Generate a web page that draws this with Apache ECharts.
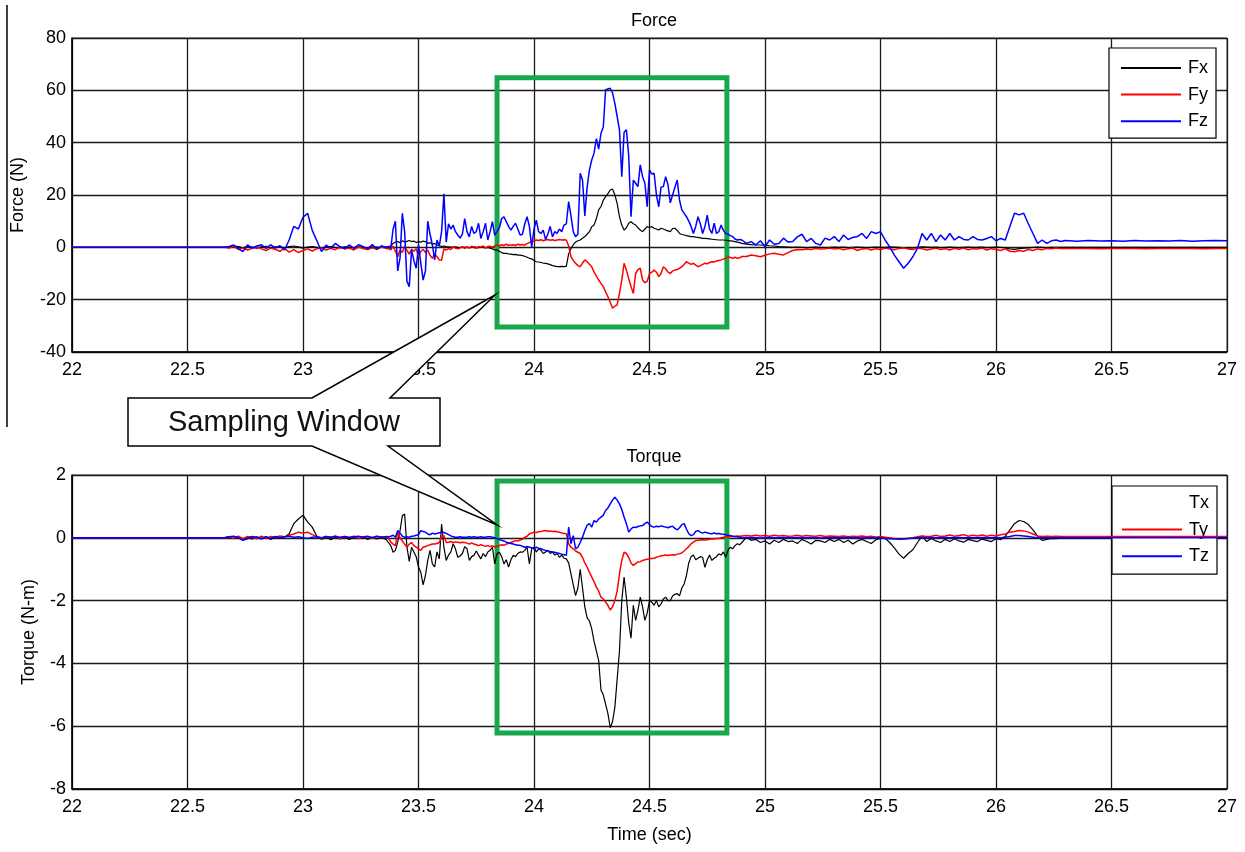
<!DOCTYPE html>
<html>
<head>
<meta charset="utf-8">
<script src="https://cdn.jsdelivr.net/npm/echarts/dist/echarts.min.js"></script>
<style>html,body{margin:0;padding:0;background:#fff}#c{width:1245px;height:852px}</style>
</head>
<body>
<div id="c"></div>
<script>
// ---- time samples (s) shared by all six channels ----
const time = [
 22.00, 22.66,
 22.68, 22.70, 22.72, 22.74, 22.76, 22.78, 22.80, 22.82, 22.84, 22.86,
 22.88, 22.90, 22.92, 22.94, 22.96, 22.98, 23.00, 23.02, 23.04, 23.06,
 23.08, 23.10, 23.12, 23.14, 23.16, 23.18, 23.20, 23.22, 23.24, 23.26,
 23.28, 23.30, 23.32, 23.34, 23.36,
 23.37, 23.38, 23.39, 23.40,
 23.41, 23.42, 23.43, 23.44, 23.45, 23.46, 23.47, 23.48, 23.49, 23.50,
 23.51, 23.52, 23.53, 23.54, 23.55, 23.56, 23.57, 23.58, 23.59, 23.60,
 23.61, 23.62, 23.63, 23.64, 23.65, 23.66, 23.67, 23.68, 23.69, 23.70,
 23.71, 23.72, 23.73, 23.74, 23.75, 23.76, 23.77, 23.78, 23.79, 23.80,
 23.81, 23.82, 23.83, 23.84, 23.85, 23.86, 23.87, 23.88, 23.89, 23.90,
 23.91, 23.92, 23.93, 23.94, 23.95, 23.96, 23.97, 23.98, 23.99, 24.00,
 24.01, 24.02, 24.03, 24.04, 24.05, 24.06, 24.07, 24.08, 24.09, 24.10,
 24.11, 24.12, 24.13, 24.14, 24.15, 24.16, 24.17, 24.18, 24.19, 24.20,
 24.21, 24.22, 24.23, 24.24, 24.25, 24.26, 24.27, 24.28, 24.29, 24.30,
 24.31, 24.32, 24.33, 24.34, 24.35, 24.36, 24.37, 24.38, 24.39, 24.40,
 24.41, 24.42, 24.43, 24.44, 24.45, 24.46, 24.47, 24.48, 24.49, 24.50,
 24.51, 24.52, 24.53, 24.54, 24.55, 24.56, 24.57, 24.58, 24.59, 24.60,
 24.61, 24.62, 24.63, 24.64, 24.65, 24.66, 24.67, 24.68, 24.69, 24.70,
 24.71, 24.72, 24.73, 24.74, 24.75, 24.76, 24.77, 24.78, 24.79, 24.80,
 24.81, 24.82, 24.83, 24.84, 24.85, 24.86, 24.87, 24.88, 24.89, 24.90,
 24.92, 24.94, 24.96, 24.98, 25.00, 25.02, 25.04, 25.06, 25.08, 25.10,
 25.12, 25.14, 25.16, 25.18, 25.20, 25.22, 25.24, 25.26, 25.28, 25.30,
 25.32, 25.34, 25.36, 25.38, 25.40, 25.42, 25.44, 25.46, 25.48, 25.50,
 25.52, 25.54, 25.56, 25.58, 25.60, 25.62, 25.64, 25.66, 25.68, 25.70,
 25.72, 25.74, 25.76, 25.78, 25.80, 25.82, 25.84, 25.86, 25.88, 25.90,
 25.92, 25.94, 25.96, 25.98, 26.00, 26.02, 26.04, 26.06, 26.08, 26.10,
 26.12, 26.14, 26.16, 26.18, 26.20, 26.22, 26.24, 26.26, 26.28, 26.30,
 26.35, 26.40, 26.45, 26.50, 26.55, 26.60, 26.65, 26.70, 26.75, 26.80, 26.85, 26.90, 26.95, 27.00
];

// ---- Force (N) ----
const fx = [
 0, 0,
 0.0, 0.5, 0.3, -0.2, 0.4, 0.1, -0.3, 0.2, 0.4, -0.1,
 0.2, 0.3, -0.2, 0.3, 0.5, 0.2, -0.3, 0.1, 0.3, 0.0,
 -0.2, 0.2, 0.3, 0.0, -0.2, 0.2, 0.1, -0.1, 0.2, 0.0,
 -0.2, 0.2, 0.1, 0.0, 0.2,
 0.3, 0.5, 1.5, 2.0,
 2.2, 1.8, 2.5, 2.0, 2.3, 2.6, 2.2, 2.4, 1.8, 2.2,
 2.0, 2.4, 2.2, 1.5, 1.8, 1.2, 1.5, 0.9, 0.6, 0.3,
 0.5, 0.3, 0.2, 0.0, 0.1, 0.2, 0.0, -0.1, 0.1, 0.0,
 0.1, -0.1, 0.0, 0.2, 0.0, -0.1, 0.1, 0.0, -0.2, 0.0,
 -0.3, -0.6, -1.0, -1.0, -1.5, -2.0, -2.3, -2.3, -2.5, -2.6,
 -2.8, -2.7, -3.0, -3.0, -3.2, -3.4, -3.8, -4.2, -4.4, -5.0,
 -5.5, -5.6, -5.8, -6.0, -6.1, -6.3, -6.6, -7.0, -7.2, -7.4,
 -7.4, -7.3, -7.4, -7.2, -2.5, -0.5, 1.0, 2.0, 2.5, 2.8,
 3.5, 4.1, 5.0, 6.0, 7.9, 8.5, 11.0, 14.3, 15.6, 18.0,
 19.4, 20.5, 21.9, 22.3, 20.0, 16.8, 11.7, 8.5, 6.6, 7.5,
 9.2, 9.8, 9.0, 8.5, 7.5, 6.6, 6.0, 7.0, 7.9, 7.6,
 7.9, 7.3, 7.0, 6.6, 7.3, 7.0, 6.6, 6.3, 6.0, 7.2,
 7.3, 6.5, 5.3, 4.9, 4.7, 4.5, 4.3, 4.1, 4.1, 3.9,
 3.8, 3.6, 3.4, 3.4, 3.3, 3.2, 3.1, 3.0, 2.9, 2.8,
 2.8, 2.8, 2.7, 2.6, 2.5, 2.4, 2.2, 2.0, 1.8, 1.5,
 1.2, 1.0, 0.9, 0.9, 0.8, 0.6, 0.5, 0.3, 0.2, 0.1,
 0.0, 0.1, 0.0, -0.1, 0.0, 0.1, 0.0, -0.1, 0.0, 0.1,
 0.0, 0.1, -0.1, 0.0, 0.1, 0.0, -0.1, 0.0, 0.1, 0.0,
 0.0, 0.2, 0.1, 0.0, -0.2, -0.3, -0.2, 0.0, 0.2, 0.1,
 0.0, 0.1, -0.1, 0.0, 0.1, 0.0, -0.1, 0.0, 0.1, 0.0,
 0.0, 0.1, -0.1, 0.0, 0.1, 0.0, -0.2, -0.6, -0.8, -0.5,
 -0.3, -0.2, 0.0, 0.1, 0.0, -0.1, 0.0, 0.0, 0.0, 0.0,
 0, 0, 0, 0, 0, 0, 0, 0, 0, 0, 0, 0, 0, 0
];
const fy = [
 0, 0,
 -0.3, 0.4, -0.8, -0.2, -1.0, -0.4, 0.2, -0.6, -1.2, -0.3,
 -0.8, -1.5, -0.4, -1.8, -0.9, -2.0, -1.2, -0.6, -1.4, -0.5,
 -0.2, -1.0, -0.4, -0.9, 0.2, -0.6, -0.3, -1.0, 0.1, -0.5,
 -0.8, -0.2, -0.7, 0.1, -0.4,
 -0.5, -1.0, 0.5, -1.5,
 -3.6, -1.0, -2.0, 0.5, -1.2, -2.6, -0.8, -1.5, -0.5, -3.6,
 -1.5, -0.8, -2.0, -1.0, -3.0, -4.2, -2.5, -3.6, -4.8, -4.9,
 -0.6, -1.0, -0.5, -0.8, 0.2, -0.3, -0.6, -0.2, 0.3, -0.4,
 0.1, -0.3, 0.4, 0.0, -0.4, 0.3, 0.1, 0.5, -0.2, 0.3,
 0.4, 0.0, 0.6, 0.9, 0.5, 1.0, 0.7, 1.2, 0.8, 0.9,
 1.0, 0.7, 1.2, 0.9, 1.1, 0.8, 1.4, 1.8, 2.2, 2.4,
 2.8, 2.6, 2.9, 2.5, 2.8, 3.0, 2.7, 2.9, 2.6, 2.8,
 3.0, 2.8, 2.9, 2.8, 0.5, -3.6, -5.0, -6.1, -7.0, -7.4,
 -6.0, -4.8, -5.5, -6.5, -7.4, -9.5, -11.0, -12.5, -13.8, -15.0,
 -17.0, -18.9, -21.0, -23.3, -22.5, -22.0, -17.6, -12.5, -6.1, -8.7,
 -12.0, -15.0, -17.6, -10.0, -8.5, -8.0, -12.5, -13.5, -13.0, -10.0,
 -9.5, -8.7, -9.5, -11.2, -10.0, -7.4, -8.2, -9.5, -10.0, -9.0,
 -8.7, -8.5, -8.0, -7.4, -6.5, -5.5, -6.0, -6.5, -6.1, -6.8,
 -7.4, -7.0, -6.5, -6.1, -6.3, -5.8, -5.5, -5.6, -5.2, -5.0,
 -4.8, -4.5, -4.2, -3.6, -3.9, -4.2, -3.8, -4.2, -4.0, -3.5,
 -3.5, -2.9, -3.2, -3.6, -3.0, -2.5, -2.3, -2.6, -2.9, -2.0,
 -1.2, -0.8, -0.9, -0.6, -0.8, -0.4, -0.6, -0.5, -0.3, -0.6,
 -0.4, -0.9, -0.5, -0.3, -1.2, -0.6, -0.4, -1.0, -0.5, -0.8,
 -0.3, -0.6, -0.9, -0.4, -0.2, -0.6, -0.8, -0.3, -0.5, -1.0,
 -0.6, -0.3, -0.8, -0.5, -1.0, -0.4, -0.7, -0.3, -0.9, -0.5,
 -0.6, -0.3, -1.0, -0.5, -0.8, -1.2, -0.6, -1.5, -1.7, -1.2,
 -1.5, -0.8, -1.2, -0.6, -0.9, -0.4, -0.5, -0.3, -0.4, -0.4,
 -0.4, -0.4, -0.5, -0.4, -0.4, -0.4, -0.5, -0.4, -0.4, -0.4, -0.4, -0.5, -0.4, -0.4
];
const fz = [
 0, 0,
 0.3, 0.9, -0.5, -1.6, 0.9, -0.3, 0.5, 1.0, -0.4, 1.0,
 -0.3, 0.6, -1.0, 2.8, 8.0, 7.0, 11.5, 13.0, 6.5, 2.5,
 -1.6, 0.8, -0.3, 1.5, 0.2, -0.5, 0.9, -0.4, 1.0, 0.3,
 -0.6, 1.1, -0.8, 0.6, -0.2,
 0.4, -0.5, 7.0, 10.0,
 -9.0, -4.0, 13.0, 6.0, -13.0, -15.0, -1.0, -5.0, -8.0, 1.0,
 -6.0, -12.5, -9.0, 10.0, 5.0, 1.0, -4.8, 2.8, 0.5, 6.0,
 20.5, 2.0, 9.0, 7.0, 8.5, 6.0, 4.7, 3.5, 5.0, 11.0,
 6.0, 4.0, 8.0, 5.3, 6.0, 9.2, 3.4, 6.0, 9.2, 2.8,
 6.0, 9.8, 4.7, 6.0, 7.5, 11.0, 11.7, 9.8, 8.0, 6.6,
 8.0, 9.2, 7.0, 4.7, 5.0, 9.0, 11.7, 8.0, 0.2, 7.0,
 10.4, 6.0, 5.3, 6.6, 3.0, 5.0, 8.0, 4.0, 6.0, 5.3,
 7.0, 6.0, 8.5, 9.0, 17.5, 12.0, 6.0, 4.1, 5.0, 28.3,
 25.7, 12.0, 23.0, 29.6, 33.4, 36.0, 41.5, 37.5, 43.6, 46.0,
 60.2, 60.5, 60.8, 59.0, 55.0, 50.0, 44.9, 27.0, 44.0, 44.9,
 35.0, 11.7, 25.7, 24.5, 23.2, 31.5, 27.0, 24.5, 15.5, 29.6,
 28.0, 28.3, 20.0, 15.5, 23.0, 23.2, 27.0, 24.0, 17.0, 20.0,
 23.0, 25.7, 18.0, 14.3, 13.0, 11.7, 10.0, 8.0, 5.3, 8.0,
 11.7, 9.0, 5.3, 8.0, 12.3, 7.0, 5.3, 9.2, 5.3, 6.0,
 8.5, 6.5, 5.3, 5.0, 4.5, 4.1, 3.2, 2.8, 3.0, 2.8,
 1.5, 2.2, 0.9, 2.5, 0.3, 2.8, 1.2, 1.5, 3.5, 2.0,
 2.2, 4.0, 5.0, 2.2, 3.4, 1.5, 0.9, 3.5, 2.8, 4.1,
 2.2, 4.7, 3.0, 3.8, 4.1, 5.3, 3.4, 6.0, 5.3, 6.0,
 2.8, 0.2, -3.0, -5.5, -8.0, -6.1, -3.6, -0.4, 5.3, 2.8,
 5.3, 2.2, 4.7, 2.8, 5.3, 2.8, 4.1, 3.0, 2.8, 4.1,
 3.0, 2.8, 3.4, 4.1, 2.5, 3.4, 2.8, 8.0, 13.0, 12.4,
 13.0, 9.0, 5.3, 1.5, 2.8, 1.5, 2.5, 2.8, 2.2, 2.6,
 2.3, 2.6, 2.4, 2.5, 2.3, 2.6, 2.4, 2.5, 2.4, 2.6, 2.3, 2.5, 2.6, 2.5
];

// ---- Torque (N-m) ----
const tx = [
 0, 0,
 0.02, -0.03, 0.04, -0.07, 0.02, -0.04, 0.03, -0.02, 0.04, -0.05,
 0.02, -0.02, 0.02, 0.13, 0.45, 0.6, 0.72, 0.5, 0.34, 0.05,
 -0.05, 0.03, -0.06, 0.02, -0.04, 0.03, -0.05, 0.02, -0.03, 0.04,
 -0.05, 0.02, -0.04, 0.03, -0.06,
 -0.15, -0.25, -0.46, -0.4,
 -0.14, 0.23, 0.7, 0.76, -0.3, -0.75, -0.3, -0.45, -0.6, -0.93,
 -1.1, -1.5, -1.2, -0.72, -0.4, -0.83, -0.93, -0.45, -0.67, 0.44,
 -0.3, -0.72, -0.55, -0.45, -0.19, -0.35, -0.62, -0.58, -0.5, -0.28,
 -0.35, -0.72, -0.6, -0.56, -0.42, -0.55, -0.67, -0.5, -0.6, -0.45,
 -0.4, -0.3, -0.83, -0.5, -0.46, -0.6, -0.83, -0.7, -0.93, -0.7,
 -0.56, -0.6, -0.5, -0.45, -0.46, -0.4, -0.3, -0.83, -0.35, -0.3,
 -0.45, -0.35, -0.4, -0.5, -0.45, -0.4, -0.5, -0.45, -0.55, -0.5,
 -0.62, -0.55, -0.65, -0.67, -0.8, -1.15, -1.5, -1.84, -1.6, -1.0,
 -1.6, -2.2, -2.55, -2.65, -2.9, -3.3, -3.6, -3.91, -4.85, -5.0,
 -5.3, -5.6, -6.05, -5.85, -5.4, -4.5, -3.6, -2.0, -1.25, -1.9,
 -2.7, -3.2, -2.15, -2.63, -2.3, -1.89, -2.2, -2.63, -2.4, -2.0,
 -2.05, -2.15, -2.0, -2.2, -2.1, -1.95, -1.89, -2.0, -2.0, -1.85,
 -1.8, -1.78, -1.85, -1.6, -1.47, -1.2, -0.8, -0.6, -0.55, -0.7,
 -0.65, -0.6, -0.62, -0.94, -0.7, -0.55, -0.72, -0.65, -0.6, -0.51,
 -0.55, -0.45, -0.62, -0.4, -0.3, -0.35, -0.25, -0.19, -0.22, -0.15,
 0.02, -0.08, -0.05, -0.15, -0.1, -0.2, -0.08, -0.15, -0.05, -0.12,
 -0.1, -0.18, -0.05, -0.12, -0.2, -0.08, -0.1, -0.15, -0.05, -0.12,
 -0.05, -0.15, -0.08, -0.2, -0.1, -0.05, -0.12, -0.18, -0.06, -0.02,
 -0.02, -0.15, -0.32, -0.52, -0.65, -0.5, -0.38, -0.15, 0.05, -0.12,
 -0.02, -0.1, -0.15, -0.05, -0.12, -0.03, -0.1, -0.14, -0.05, -0.09,
 -0.12, -0.04, -0.08, -0.12, -0.03, -0.06, 0.05, 0.25, 0.45, 0.55,
 0.52, 0.42, 0.25, 0.05, -0.08, -0.05, -0.02, -0.03, 0.0, 0.0,
 0, 0, 0, 0, 0, 0, 0, 0, 0, 0, 0, 0, 0, 0
];
const ty = [
 0, 0,
 0.03, -0.02, 0.05, -0.03, 0.04, 0.02, -0.03, 0.05, -0.02, 0.04,
 0.02, 0.06, 0.03, 0.08, 0.12, 0.18, 0.15, 0.18, 0.1, 0.04,
 -0.02, 0.04, 0.02, 0.05, -0.02, 0.04, 0.01, 0.05, -0.02, 0.03,
 0.05, -0.02, 0.04, 0.01, 0.03,
 0.0, -0.14, -0.2, -0.25,
 0.18, 0.0, -0.1, -0.2, -0.3, -0.2, -0.15, -0.25, -0.3, -0.35,
 -0.4, -0.3, -0.28, -0.25, -0.22, -0.2, -0.2, -0.18, -0.15, 0.05,
 0.07, -0.15, -0.14, -0.12, -0.15, -0.13, -0.14, -0.16, -0.14, -0.15,
 -0.17, -0.2, -0.16, -0.2, -0.22, -0.25, -0.22, -0.25, -0.27, -0.25,
 -0.28, -0.25, -0.3, -0.27, -0.25, -0.22, -0.24, -0.2, -0.18, -0.15,
 -0.12, -0.09, -0.1, -0.07, -0.05, 0.02, 0.05, 0.13, 0.15, 0.18,
 0.17, 0.19, 0.2, 0.22, 0.23, 0.21, 0.22, 0.2, 0.21, 0.19,
 0.18, 0.15, 0.14, 0.13, -0.19, -0.3, -0.35, -0.42, -0.46, -0.5,
 -0.62, -0.8, -0.93, -1.1, -1.25, -1.4, -1.57, -1.7, -1.89, -1.95,
 -2.05, -2.15, -2.3, -2.2, -2.0, -1.7, -1.15, -0.72, -0.46, -0.5,
 -0.62, -0.8, -0.88, -0.82, -0.77, -0.76, -0.72, -0.7, -0.68, -0.67,
 -0.66, -0.65, -0.62, -0.6, -0.57, -0.56, -0.55, -0.56, -0.55, -0.54,
 -0.55, -0.52, -0.51, -0.48, -0.42, -0.35, -0.28, -0.19, -0.14, -0.09,
 -0.08, -0.07, -0.06, -0.07, -0.06, -0.05, -0.03, -0.04, -0.02, -0.02,
 0.0, 0.02, 0.03, 0.02, 0.04, 0.05, 0.04, 0.06, 0.05, 0.06,
 0.07, 0.06, 0.08, 0.06, 0.07, 0.05, 0.08, 0.06, 0.07, 0.05,
 0.06, 0.08, 0.05, 0.07, 0.06, 0.05, 0.07, 0.04, 0.06, 0.05,
 0.04, 0.06, 0.03, 0.05, 0.04, 0.06, 0.03, 0.05, 0.02, 0.04,
 0.02, 0.0, -0.03, -0.05, -0.04, -0.02, 0.0, 0.03, 0.06, 0.04,
 0.05, 0.08, 0.04, 0.06, 0.09, 0.05, 0.07, 0.1, 0.05, 0.08,
 0.06, 0.09, 0.05, 0.08, 0.06, 0.1, 0.12, 0.18, 0.2, 0.23,
 0.22, 0.18, 0.12, 0.06, 0.04, 0.05, 0.04, 0.05, 0.04, 0.04,
 0.04, 0.04, 0.04, 0.04, 0.04, 0.04, 0.04, 0.04, 0.04, 0.04, 0.04, 0.04, 0.04, 0.04
];
const tz = [
 0, 0,
 0.03, 0.05, 0.0, -0.08, -0.03, 0.04, 0.02, -0.04, 0.03, -0.02,
 0.04, 0.0, 0.03, 0.05, 0.02, 0.03, 0.0, -0.02, 0.02, 0.03,
 0.0, 0.04, 0.02, 0.05, 0.02, 0.04, 0.01, 0.03, 0.05, 0.02,
 0.04, 0.01, 0.05, 0.02, 0.04,
 0.03, 0.05, 0.08, 0.02,
 0.23, 0.15, 0.05, 0.02, 0.03, 0.02, 0.05, 0.06, 0.08, 0.1,
 0.23, 0.2, 0.18, 0.12, 0.1, 0.15, 0.12, 0.14, 0.16, 0.18,
 0.17, 0.14, 0.1, 0.06, 0.03, 0.02, 0.02, 0.03, 0.02, 0.02,
 0.02, 0.03, 0.02, 0.03, 0.02, 0.02, 0.03, 0.02, 0.02, 0.03,
 0.03, 0.02, 0.0, -0.03, -0.05, -0.08, -0.1, -0.14, -0.16, -0.18,
 -0.2, -0.22, -0.24, -0.24, -0.27, -0.3, -0.28, -0.3, -0.32, -0.35,
 -0.3, -0.33, -0.35, -0.38, -0.4, -0.42, -0.44, -0.45, -0.46, -0.48,
 -0.5, -0.52, -0.54, -0.56, 0.34, -0.19, 0.07, -0.35, -0.3, -0.15,
 0.02, 0.23, 0.4, 0.45, 0.34, 0.55, 0.5, 0.6, 0.66, 0.72,
 0.87, 0.95, 1.08, 1.2, 1.29, 1.2, 1.08, 0.9, 0.66, 0.45,
 0.18, 0.28, 0.34, 0.33, 0.36, 0.38, 0.39, 0.45, 0.5, 0.42,
 0.36, 0.34, 0.37, 0.35, 0.38, 0.36, 0.34, 0.32, 0.35, 0.37,
 0.3, 0.25, 0.32, 0.42, 0.45, 0.28, 0.13, 0.07, 0.1, 0.2,
 0.23, 0.18, 0.15, 0.18, 0.16, 0.14, 0.13, 0.15, 0.13, 0.14,
 0.12, 0.11, 0.1, 0.08, 0.07, 0.05, 0.04, 0.03, 0.02, 0.01,
 0.0, 0.01, 0.0, -0.01, 0.0, 0.01, 0.0, 0.0, 0.01, 0.0,
 0.0, 0.01, 0.0, 0.0, 0.01, 0.0, -0.01, 0.0, 0.0, 0.01,
 0.0, 0.0, 0.01, 0.0, 0.0, -0.01, 0.0, 0.0, 0.01, 0.0,
 -0.02, -0.03, -0.03, -0.04, -0.03, -0.02, -0.01, 0.0, 0.01, 0.0,
 0.01, 0.0, 0.0, 0.01, 0.0, 0.0, 0.01, 0.0, 0.0, 0.0,
 0.0, 0.01, 0.0, 0.0, 0.01, 0.0, 0.02, 0.04, 0.07, 0.07,
 0.06, 0.04, 0.02, 0.0, 0.0, 0.0, 0.0, 0.0, 0.0, 0.0,
 0, 0, 0, 0, 0, 0, 0, 0, 0, 0, 0, 0, 0, 0
];

// ---- labels / annotation values ----
const forceNames = ['Fx', 'Fy', 'Fz'];
const torqueNames = ['Tx', 'Ty', 'Tz'];
const windowTime = [23.84, 24.835];
const forceWindow = [64.8, -30.4];
const torqueWindow = [1.81, -6.22];
const calloutText = 'Sampling Window';

[fx, fy, fz, tx, ty, tz].forEach((a, k) => {
  if (a.length !== time.length) console.error('length mismatch', k, a.length, time.length);
});

const FONT = '"Liberation Sans", Arial, Helvetica, sans-serif';
const colors = ['#000000', '#ff0000', '#0000ff'];
const widths = [1.2, 1.5, 1.5];
const GREEN = '#17a84b';

function pairs(arr) { return time.map((t, i) => [t, arr[i]]); }

function mkSeries(name, arr, ci, gi, win) {
  const s = {
    name: name, type: 'line', xAxisIndex: gi, yAxisIndex: gi,
    data: pairs(arr), showSymbol: false, symbol: 'none', silent: true,
    animation: false,
    lineStyle: { color: colors[ci], width: widths[ci] },
    itemStyle: { color: colors[ci] },
    z: 3 + ci
  };
  if (win) {
    s.markArea = {
      silent: true,
      itemStyle: { color: 'rgba(0,0,0,0)', borderColor: GREEN, borderWidth: 5 },
      data: [[{ coord: [windowTime[0], win[0]] }, { coord: [windowTime[1], win[1]] }]]
    };
  }
  return s;
}

function xAx(gi, named) {
  const a = {
    gridIndex: gi, type: 'value', min: 22, max: 27, interval: 0.5,
    axisLine: { show: true, onZero: false, lineStyle: { color: '#000', width: 1.5 } },
    axisTick: { show: false },
    axisLabel: { fontSize: 18, color: '#000', margin: 9, fontFamily: FONT },
    splitLine: { show: true, lineStyle: { color: '#1a1a1a', width: 1.3 } }
  };
  if (named) {
    a.name = 'Time (sec)'; a.nameLocation = 'middle'; a.nameGap = 37;
    a.nameTextStyle = { fontSize: 18, color: '#000', fontFamily: FONT };
  }
  return a;
}
function yAx(gi, min, max, interval, name, gap) {
  return {
    gridIndex: gi, type: 'value', min: min, max: max, interval: interval,
    name: name, nameLocation: 'middle', nameGap: gap, nameRotate: 90,
    nameTextStyle: { fontSize: 18, color: '#000', fontFamily: FONT },
    axisLine: { show: true, onZero: false, lineStyle: { color: '#000', width: 1.5 } },
    axisTick: { show: false },
    axisLabel: { fontSize: 18, color: '#000', margin: 6, fontFamily: FONT },
    splitLine: { show: true, lineStyle: { color: '#1a1a1a', width: 1.3 } }
  };
}

function legend(names, left, top, hideFirst, pad) {
  return {
    data: names.map((n, i) => (hideFirst && i === 0)
      ? { name: n, icon: 'rect', itemStyle: { opacity: 0, color: 'rgba(0,0,0,0)' } }
      : { name: n, icon: 'rect' }),
    orient: 'vertical', left: left, top: top,
    itemWidth: 60, itemHeight: 2, itemGap: 6.6,
    padding: pad,
    backgroundColor: '#fff', borderColor: '#000', borderWidth: 1.2, borderRadius: 0,
    selectedMode: false,
    textStyle: { fontSize: 18, lineHeight: 20, color: '#000', fontFamily: FONT, padding: [0, 0, 0, 2] }
  };
}

const chart = echarts.init(document.getElementById('c'), null, { renderer: 'canvas' });
chart.setOption({
  backgroundColor: '#fff',
  animation: false,
  title: [
    { text: 'Force', left: 649, top: 7, textAlign: 'center',
      textStyle: { fontSize: 18, fontWeight: 'normal', color: '#000', fontFamily: FONT } },
    { text: 'Torque', left: 649, top: 443, textAlign: 'center',
      textStyle: { fontSize: 18, fontWeight: 'normal', color: '#000', fontFamily: FONT } }
  ],
  legend: [
    legend(forceNames, 1109, 48, false, [10, 8, 7, 12]),
    legend(torqueNames, 1112, 486, true, [7, 8, 8, 10])
  ],
  grid: [
    { left: 72, right: 18, top: 38, height: 314, show: true, borderColor: '#444', borderWidth: 1, backgroundColor: 'transparent', outerBoundsMode: 'none', containLabel: false },
    { left: 72, right: 18, top: 475, height: 314, show: true, borderColor: '#444', borderWidth: 1, backgroundColor: 'transparent', outerBoundsMode: 'none', containLabel: false }
  ],
  xAxis: [xAx(0, false), xAx(1, true)],
  yAxis: [yAx(0, -40, 80, 20, 'Force (N)', 45), yAx(1, -8, 2, 2, 'Torque (N-m)', 34)],
  series: [
    mkSeries(forceNames[0], fx, 0, 0, null),
    mkSeries(forceNames[1], fy, 1, 0, null),
    mkSeries(forceNames[2], fz, 2, 0, forceWindow),
    mkSeries(torqueNames[0], tx, 0, 1, null),
    mkSeries(torqueNames[1], ty, 1, 1, null),
    mkSeries(torqueNames[2], tz, 2, 1, torqueWindow)
  ],
  graphic: [
    { type: 'line', z: 100, shape: { x1: 7, y1: 5, x2: 7, y2: 427 },
      style: { stroke: '#000', lineWidth: 1.5 } },
    { type: 'polygon', z: 100,
      shape: { points: [[128, 398], [312, 398], [495, 295], [390, 398], [440, 398], [440, 446],
                        [388, 446], [497, 525], [312, 446], [128, 446]] },
      style: { fill: '#fff', stroke: '#000', lineWidth: 1.5 } },
    { type: 'text', z: 101, x: 284, y: 423,
      style: { text: calloutText, fontSize: 29, fontFamily: FONT, fill: '#111',
               align: 'center', verticalAlign: 'middle' } }
  ]
});
</script>
</body>
</html>
